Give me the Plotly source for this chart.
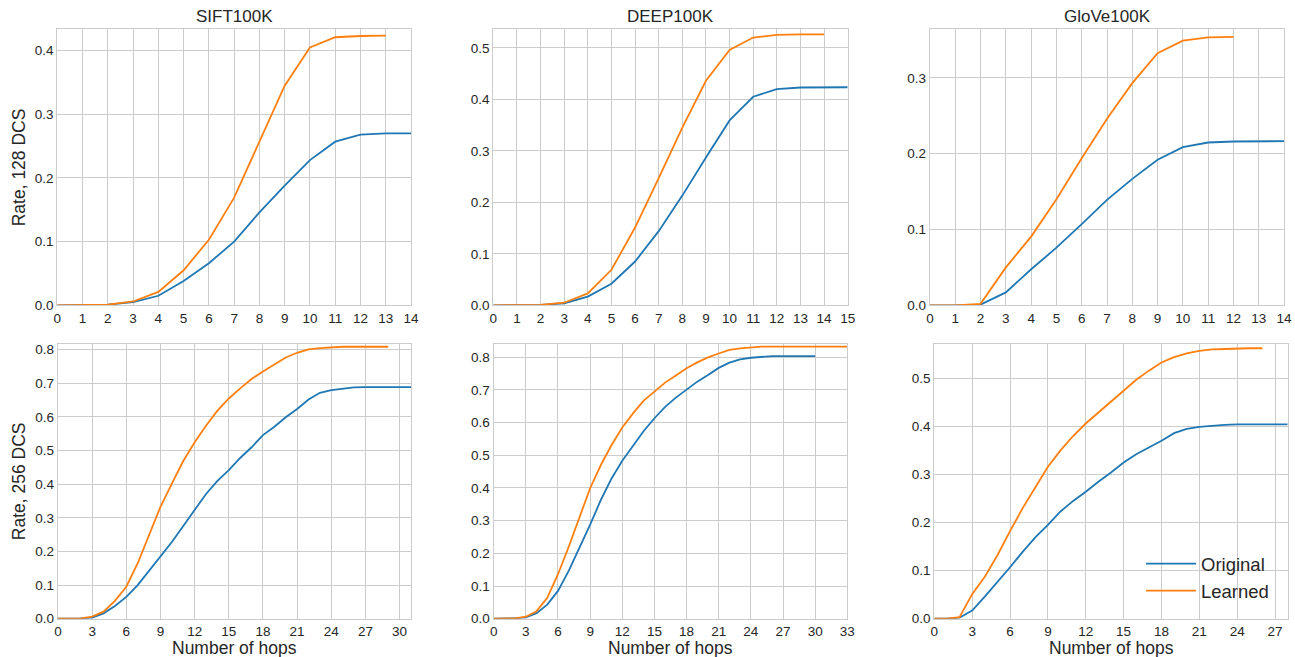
import plotly.graph_objects as go

W, H = 1295, 657

# ---- data ----
titles = ["SIFT100K", "DEEP100K", "GloVe100K"]

sift128_orig = [0, 0, 0.001, 0.005, 0.015, 0.038, 0.066, 0.100, 0.146, 0.188, 0.228, 0.257, 0.268, 0.270, 0.270]
sift128_learn = [0, 0, 0.001, 0.006, 0.021, 0.055, 0.103, 0.169, 0.257, 0.345, 0.405, 0.421, 0.423, 0.4235]

deep128_orig = [0, 0, 0.001, 0.004, 0.017, 0.042, 0.085, 0.144, 0.213, 0.287, 0.359, 0.405, 0.420, 0.423, 0.4235, 0.4235]
deep128_learn = [0, 0, 0.001, 0.005, 0.023, 0.069, 0.151, 0.247, 0.345, 0.436, 0.496, 0.520, 0.525, 0.526, 0.526]

glove128_orig = [0, 0, 0.001, 0.017, 0.0475, 0.076, 0.107, 0.139, 0.1667, 0.192, 0.2085, 0.2147, 0.216, 0.2165, 0.2165]
glove128_learn = [0, 0, 0.002, 0.050, 0.0906, 0.140, 0.194, 0.246, 0.293, 0.3326, 0.349, 0.3533, 0.354]

sift256_orig = [0, 0, 0.001, 0.003, 0.016, 0.038, 0.065, 0.100, 0.143, 0.184, 0.228, 0.276, 0.323, 0.371,
                0.410, 0.442, 0.478, 0.510, 0.546, 0.571, 0.599, 0.624, 0.652, 0.672, 0.680, 0.685, 0.688,
                0.689, 0.689, 0.689, 0.689, 0.689]
sift256_learn = [0, 0, 0.001, 0.006, 0.021, 0.053, 0.095, 0.165, 0.249, 0.333, 0.402, 0.469, 0.525, 0.574,
                 0.619, 0.655, 0.685, 0.713, 0.735, 0.756, 0.777, 0.791, 0.801, 0.805, 0.808, 0.809, 0.809,
                 0.809, 0.809, 0.809]

deep256_orig = [0, 0, 0.001, 0.004, 0.017, 0.043, 0.085, 0.146, 0.215, 0.288, 0.363, 0.429, 0.483, 0.530,
                0.574, 0.613, 0.648, 0.676, 0.701, 0.725, 0.745, 0.767, 0.783, 0.793, 0.798, 0.801, 0.803,
                0.803, 0.803, 0.803, 0.803]
deep256_learn = [0, 0, 0.001, 0.006, 0.023, 0.064, 0.136, 0.220, 0.312, 0.399, 0.470, 0.531, 0.585, 0.628,
                 0.667, 0.696, 0.722, 0.744, 0.766, 0.784, 0.799, 0.811, 0.822, 0.827, 0.830, 0.832, 0.832,
                 0.832, 0.832, 0.832, 0.832, 0.832, 0.832, 0.832]

glove256_orig = [0, 0, 0.002, 0.017, 0.046, 0.076, 0.107, 0.139, 0.169, 0.195, 0.223, 0.245, 0.264, 0.285,
                 0.304, 0.325, 0.342, 0.356, 0.370, 0.386, 0.395, 0.399, 0.4015, 0.403, 0.404, 0.404, 0.404,
                 0.404, 0.404]
glove256_learn = [0, 0, 0.003, 0.051, 0.087, 0.132, 0.182, 0.230, 0.273, 0.316, 0.350, 0.380, 0.406, 0.429,
                  0.453, 0.476, 0.497, 0.516, 0.533, 0.544, 0.552, 0.557, 0.560, 0.561, 0.5625, 0.5625, 0.5625]

y_titles = ["Rate, 128 DCS", "Rate, 256 DCS"]
x_title = "Number of hops"
series_names = ["Original", "Learned"]

panels = [
    (sift128_orig, sift128_learn), (deep128_orig, deep128_learn), (glove128_orig, glove128_learn),
    (sift256_orig, sift256_learn), (deep256_orig, deep256_learn), (glove256_orig, glove256_learn),
]

# ---- layout (window pixels) ----
x_px = [(57.3, 411), (493.3, 847.7), (930, 1284), (58, 411), (493.7, 847.3), (934.3, 1287.7)]
y_px = [(29.3, 305.3)] * 3 + [(343.7, 618.7)] * 3
x_ranges = [[0, 14], [0, 15], [0, 14], [0, 31], [0, 33], [0, 28]]
y_ranges = [[0, 0.4335], [0, 0.536], [0, 0.364], [0, 0.818], [0, 0.841], [0, 0.572]]
x_dticks = [1, 1, 1, 3, 3, 3]


def px(x):
    return x / W


def py(y):
    return 1 - y / H


BLUE = "#1f77b4"
ORANGE = "#ff7f0e"
GRID = "#cccccc"
TXT = "#262626"
FONT = "Liberation Sans, Arial, sans-serif"

fig = go.Figure()
layout = dict(
    width=W, height=H,
    template="none",
    margin=dict(l=0, r=0, t=0, b=0, autoexpand=False),
    paper_bgcolor="white", plot_bgcolor="white",
    font=dict(family=FONT, color=TXT, size=13.5),
    showlegend=True,
    legend=dict(x=px(1141), y=py(545), xanchor="left", yanchor="top",
                itemwidth=50, tracegroupgap=0,
                bgcolor="rgba(0,0,0,0)", font=dict(size=18.5, color=TXT, family=FONT)),
)

for i, (orig, learn) in enumerate(panels):
    n = i + 1
    xa = "x" if n == 1 else f"x{n}"
    ya = "y" if n == 1 else f"y{n}"
    fig.add_trace(go.Scatter(x=list(range(len(orig))), y=orig, mode="lines",
                             line=dict(color=BLUE, width=1.8), name=series_names[0],
                             showlegend=(n == 6), xaxis=xa, yaxis=ya))
    fig.add_trace(go.Scatter(x=list(range(len(learn))), y=learn, mode="lines",
                             line=dict(color=ORANGE, width=1.8), name=series_names[1],
                             showlegend=(n == 6), xaxis=xa, yaxis=ya))
    x0, x1 = x_px[i]
    y0, y1 = y_px[i]
    common = dict(showgrid=True, gridcolor=GRID, gridwidth=1, zeroline=False,
                  showline=True, linecolor=GRID, linewidth=1.3, mirror=True,
                  automargin=False, ticks="",
                  tickfont=dict(size=13.5, color=TXT, family=FONT))
    layout["xaxis" if n == 1 else f"xaxis{n}"] = dict(
        domain=[px(x0), px(x1)], anchor=ya, range=x_ranges[i],
        tickmode="linear", tick0=0, dtick=x_dticks[i], **common)
    layout["yaxis" if n == 1 else f"yaxis{n}"] = dict(
        domain=[py(y1), py(y0)], anchor=xa, range=y_ranges[i],
        tickmode="linear", tick0=0, dtick=0.1, tickformat=".1f", **common)

annotations = []
for j, t in enumerate(titles):
    x0, x1 = x_px[j]
    annotations.append(dict(text=t, x=px((x0 + x1) / 2), y=py(16), xref="paper", yref="paper",
                            showarrow=False, xanchor="center", yanchor="middle",
                            font=dict(size=17, color=TXT, family=FONT)))
for r, t in enumerate(y_titles):
    y0, y1 = y_px[r * 3]
    annotations.append(dict(text=t, x=px(19), y=py((y0 + y1) / 2), xref="paper", yref="paper",
                            showarrow=False, xanchor="center", yanchor="middle", textangle=-90,
                            font=dict(size=17.5, color=TXT, family=FONT)))
for j in range(3):
    x0, x1 = x_px[3 + j]
    annotations.append(dict(text=x_title, x=px((x0 + x1) / 2), y=py(647.5), xref="paper", yref="paper",
                            showarrow=False, xanchor="center", yanchor="middle",
                            font=dict(size=17.5, color=TXT, family=FONT)))
layout["annotations"] = annotations

fig.update_layout(**layout)
# remove the page's default body margin so the figure sits at the window's top-left corner
fig.write_html("out.html", config={"displayModeBar": False},
               post_script="document.body.style.margin='0px';")
